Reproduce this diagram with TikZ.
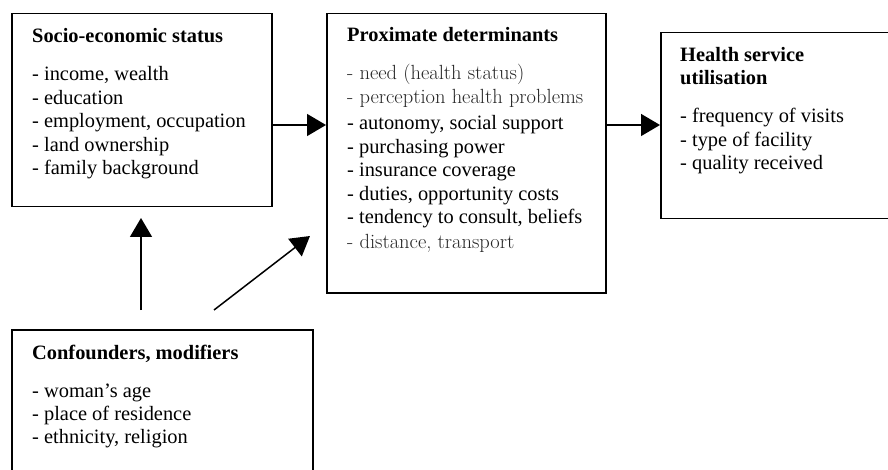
\documentclass[tikz,border=0pt]{standalone}
\usepackage{fontspec}
\setmainfont{Liberation Serif}
\usetikzlibrary{arrows.meta}
\newcommand{\gfont}{\usefont{TU}{lmr}{m}{n}\fontsize{20.5}{23}\selectfont}
\tikzset{
  box/.style={draw, line width=1.5pt, rectangle, inner sep=0pt, anchor=north west},
  txt/.style={inner sep=0pt, anchor=base west, font=\fontsize{20.4}{23.3}\selectfont},
  ttl/.style={inner sep=0pt, anchor=base west, font=\fontsize{20.4}{23.3}\selectfont\bfseries},
  gtxt/.style={inner sep=0pt, anchor=base west, font=\gfont, text=black!85},
  arr/.style={line width=1.5pt, -{Triangle[length=19pt,width=22pt]}}
}
\begin{document}
\begin{tikzpicture}[x=1pt,y=-1pt]
\useasboundingbox (0,0) rectangle (888,470);
% boxes
\node[box, minimum width=260pt, minimum height=193pt] (socio) at (11,13) {};
\node[box, minimum width=279pt, minimum height=279pt] (prox) at (326,13) {};
\node[box, minimum width=232pt, minimum height=186pt] (health) at (660,32) {};
\node[box, minimum width=301pt, minimum height=160pt] (conf) at (11,329) {};
% socio text
\node[ttl] (st) at (32,43) {Socio-economic status};
\node[txt] (s1) at (32,81) {- income, wealth};
\node[txt] (s2) at (32,104.4) {- education};
\node[txt] (s3) at (32,127.8) {- employment, occupation};
\node[txt] (s4) at (32,151.2) {- land ownership};
\node[txt] (s5) at (32,174.6) {- family background};
% proximate text
\node[ttl] (pt) at (347,42) {Proximate determinants};
\node[gtxt] (p1) at (347,80) {- need (health status)};
\node[gtxt] (p2) at (347,104) {- perception health problems};
\node[txt] (p3) at (347,130) {- autonomy, social support};
\node[txt] (p4) at (347,153.5) {- purchasing power};
\node[txt] (p5) at (347,177) {- insurance coverage};
\node[txt] (p6) at (347,200.5) {- duties, opportunity costs};
\node[txt] (p7) at (347,224) {- tendency to consult, beliefs};
\node[gtxt] (p8) at (347,248) {- distance, transport};
% health text
\node[ttl] (ht1) at (680,62) {Health service};
\node[ttl] (ht2) at (680,85) {utilisation};
\node[txt] (h1) at (680,123) {- frequency of visits};
\node[txt] (h2) at (680,146.5) {- type of facility};
\node[txt] (h3) at (680,170) {- quality received};
% confounders text
\node[ttl] (ct) at (32,359) {Confounders, modifiers};
\node[txt] (c1) at (32,397) {- woman’s age};
\node[txt] (c2) at (32,420.4) {- place of residence};
\node[txt] (c3) at (32,443.8) {- ethnicity, religion};
% connectors
\draw[arr] (socio.east |- 0,125) -- (prox.west |- 0,125);
\draw[arr] (prox.east |- 0,125) -- (health.west |- 0,125);
\coordinate (vs) at (141,310);
\coordinate (ve) at (141,218);
\coordinate (ds) at (214,310);
\coordinate (de) at (310,236);
\draw[arr] (vs) -- (ve);
\draw[arr] (ds) -- (de);
\end{tikzpicture}
\end{document}
